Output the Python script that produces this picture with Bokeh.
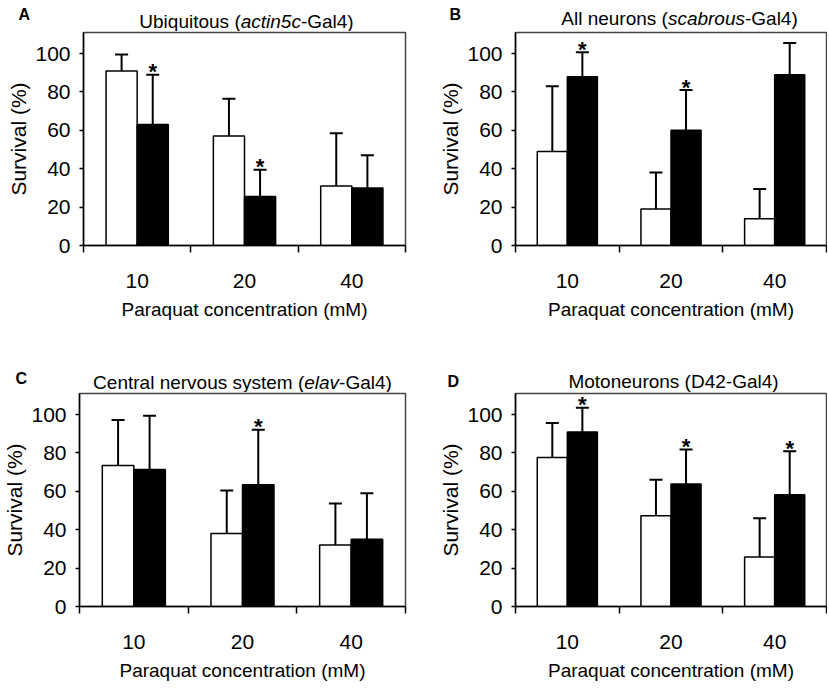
import numpy as np
from bokeh.plotting import figure
from bokeh.models import ColumnDataSource, Whisker, TeeHead, Label, FixedTicker, Range1d
from bokeh.layouts import row, column
from bokeh.core.properties import value
from bokeh.embed import file_html
from bokeh.resources import INLINE

# ---------------- data ----------------
concentrations = ["10", "20", "40"]
y_ticks = [0, 20, 40, 60, 80, 100]

# A: Ubiquitous (actin5c-Gal4)
a_ctrl = [91, 57, 31]
a_ctrl_err = [8.5, 19.5, 27.5]
a_gene = [63, 25.5, 30]
a_gene_err = [26, 14, 17]
a_sig = [True, True, False]

# B: All neurons (scabrous-Gal4)
b_ctrl = [49, 19, 14]
b_ctrl_err = [34, 19, 15.5]
b_gene = [88, 60, 89]
b_gene_err = [12.7, 21, 16.5]
b_sig = [True, True, False]

# C: Central nervous system (elav-Gal4)
c_ctrl = [73.5, 38, 32]
c_ctrl_err = [23.7, 22.5, 21.7]
c_gene = [71.4, 63.5, 35]
c_gene_err = [28, 28.6, 24]
c_sig = [False, True, False]

# D: Motoneurons (D42-Gal4)
d_ctrl = [77.6, 47.3, 25.8]
d_ctrl_err = [18, 18.7, 20.2]
d_gene = [91, 63.8, 58.2]
d_gene_err = [12.6, 18, 22.7]
d_sig = [True, True, True]

title_a = [("Ubiquitous (", "normal"), ("actin5c", "italic"), ("-Gal4)", "normal")]
title_b = [("All neurons (", "normal"), ("scabrous", "italic"), ("-Gal4)", "normal")]
title_c = [("Central nervous system (", "normal"), ("elav", "italic"), ("-Gal4)", "normal")]
title_d = [("Motoneurons (D42-Gal4)", "normal")]

x_label = "Paraquat concentration (mM)"
y_label = "Survival (%)"

# ---------------- styling ----------------
FONT = "Liberation Sans"
BAR_W = 0.29
TITLE_FS = 19
Y_MAX = 111

# Arial / Liberation Sans advance widths (per 1000 em), used to lay out the
# mixed regular/italic titles
ADV = {' ': 278, '(': 333, ')': 333, '-': 333, '2': 556, '4': 556, '5': 556,
       'A': 667, 'C': 722, 'D': 722, 'G': 778, 'M': 833, 'U': 722,
       'a': 556, 'b': 556, 'c': 500, 'e': 556, 'i': 222, 'l': 222, 'm': 833,
       'n': 556, 'o': 556, 'q': 556, 'r': 333, 's': 500, 't': 278, 'u': 556,
       'v': 500, 'y': 500}


def text_w(s, fs):
    return sum(ADV.get(ch, 556) for ch in s) * fs / 1000.0


def make_header(letter, title_parts, W, H, title_cx, title_y, letter_x, letter_y):
    h = figure(width=W, height=H, x_range=Range1d(0, W), y_range=Range1d(0, H),
               output_backend="svg", toolbar_location=None, title=None,
               x_axis_location=None, y_axis_location=None,
               min_border=0, min_border_left=0, min_border_right=0,
               min_border_top=0, min_border_bottom=0)
    h.grid.visible = False
    h.outline_line_color = None
    h.background_fill_color = "white"
    h.border_fill_color = "white"
    total = sum(text_w(t, TITLE_FS) for t, _ in title_parts)
    x0 = title_cx - total / 2
    for t, style in title_parts:
        h.add_layout(Label(x=x0, y=title_y, x_units="screen", y_units="screen",
                           text=t, text_font=FONT, text_font_style=style,
                           text_font_size=f"{TITLE_FS}px", text_color="black",
                           text_align="left", text_baseline="alphabetic"))
        x0 += text_w(t, TITLE_FS)
    h.add_layout(Label(x=letter_x, y=letter_y, x_units="screen", y_units="screen",
                       text=letter, text_font=FONT, text_font_style="bold",
                       text_font_size="16px", text_color="black",
                       text_align="left", text_baseline="alphabetic"))
    return h


def make_panel(ctrl, ctrl_err, gene, gene_err, sig, W, H, bl, br, bt, bb):
    p = figure(width=W, height=H, x_range=Range1d(-0.5, len(concentrations) - 0.5),
               y_range=Range1d(0, Y_MAX), output_backend="svg", toolbar_location=None,
               title=None, min_border_left=bl, min_border_right=br,
               min_border_top=bt, min_border_bottom=bb)
    p.xgrid.visible = False
    p.ygrid.visible = False
    p.outline_line_color = "#444444"
    p.outline_line_width = 1.5
    p.background_fill_color = "white"
    p.border_fill_color = "white"

    idx = np.arange(len(concentrations))
    ctrl = np.array(ctrl, dtype=float)
    gene = np.array(gene, dtype=float)
    ce = np.array(ctrl_err, dtype=float)
    ge = np.array(gene_err, dtype=float)
    src = ColumnDataSource(dict(
        xc=idx - BAR_W / 2, xg=idx + BAR_W / 2,
        ctrl=ctrl, gene=gene,
        c_hi=ctrl + ce, c_lo=np.clip(ctrl - ce, 0, None),
        g_hi=gene + ge, g_lo=np.clip(gene - ge, 0, None)))

    p.vbar(x="xc", top="ctrl", bottom=0, width=BAR_W, fill_color="white",
           line_color="black", line_width=1.5, source=src)
    p.vbar(x="xg", top="gene", bottom=0, width=BAR_W, fill_color="black",
           line_color="black", line_width=1.5, source=src)

    for base, up, lo in (("xc", "c_hi", "c_lo"), ("xg", "g_hi", "g_lo")):
        w = Whisker(base=base, upper=up, lower=lo, source=src,
                    line_color="black", line_width=2,
                    upper_head=TeeHead(size=13, line_color="black", line_width=2),
                    lower_head=TeeHead(size=13, line_color="black", line_width=2))
        p.add_layout(w)

    sx = [float(idx[i] + BAR_W / 2) for i in range(len(sig)) if sig[i]]
    sy = [float(gene[i] + ge[i]) for i in range(len(sig)) if sig[i]]
    if sx:
        p.text(x=sx, y=sy, text=["*"] * len(sx), text_font=value(FONT),
               text_font_style="bold", text_font_size="22px", text_align="center",
               text_baseline="middle", y_offset=-3, text_color="black")

    # x axis: labels at category centres, ticks at category boundaries
    xa = p.xaxis[0]
    xa.ticker = FixedTicker(ticks=[int(i) for i in idx],
                            minor_ticks=[float(i) - 0.5 for i in idx] + [float(idx[-1]) + 0.5])
    xa.major_label_overrides = {int(i): c for i, c in enumerate(concentrations)}
    xa.major_tick_out = 0
    xa.major_tick_in = 0
    xa.minor_tick_out = 7
    xa.minor_tick_in = 0
    xa.minor_tick_line_color = "black"
    xa.minor_tick_line_width = 1.5
    xa.axis_line_color = "black"
    xa.axis_line_width = 1.5
    xa.major_label_text_font = FONT
    xa.major_label_text_font_size = "21px"
    xa.major_label_text_color = "black"
    xa.major_label_standoff = 21
    xa.axis_label = x_label
    xa.axis_label_text_font = FONT
    xa.axis_label_text_font_size = "19px"
    xa.axis_label_text_font_style = "normal"
    xa.axis_label_text_color = "black"
    xa.axis_label_standoff = 8

    ya = p.yaxis[0]
    ya.ticker = FixedTicker(ticks=y_ticks)
    ya.minor_tick_line_color = None
    ya.major_tick_out = 4
    ya.major_tick_in = 0
    ya.major_tick_line_color = "black"
    ya.major_tick_line_width = 1.5
    ya.axis_line_color = "black"
    ya.axis_line_width = 1.5
    ya.major_label_text_font = FONT
    ya.major_label_text_font_size = "21px"
    ya.major_label_text_color = "black"
    ya.major_label_standoff = 9
    ya.axis_label = y_label
    ya.axis_label_text_font = FONT
    ya.axis_label_text_font_size = "21px"
    ya.axis_label_text_font_style = "normal"
    ya.axis_label_text_color = "black"
    ya.axis_label_standoff = 2
    return p


# top row: header 31 + plot 309; bottom row: header 52 + plot 294
ha = make_header("A", title_a, 415, 31, title_cx=246, title_y=10, letter_x=18, letter_y=17)
hb = make_header("B", title_b, 412, 31, title_cx=264, title_y=13, letter_x=34, letter_y=17)
pa = make_panel(a_ctrl, a_ctrl_err, a_gene, a_gene_err, a_sig,
                W=415, H=309, bl=83, br=10, bt=1, bb=95)
pb = make_panel(b_ctrl, b_ctrl_err, b_gene, b_gene_err, b_sig,
                W=412, H=309, bl=100, br=1, bt=1, bb=95)
hc = make_header("C", title_c, 415, 52, title_cx=242, title_y=10, letter_x=15, letter_y=14)
hd = make_header("D", title_d, 412, 52, title_cx=258, title_y=11, letter_x=32, letter_y=11)
pc = make_panel(c_ctrl, c_ctrl_err, c_gene, c_gene_err, c_sig,
                W=415, H=294, bl=73, br=10, bt=1, bb=80)
pd = make_panel(d_ctrl, d_ctrl_err, d_gene, d_gene_err, d_sig,
                W=412, H=294, bl=100, br=1, bt=1, bb=80)

layout = column(row(ha, hb), row(pa, pb), row(hc, hd), row(pc, pd))
open("out.html", "w").write(file_html(layout, INLINE))
